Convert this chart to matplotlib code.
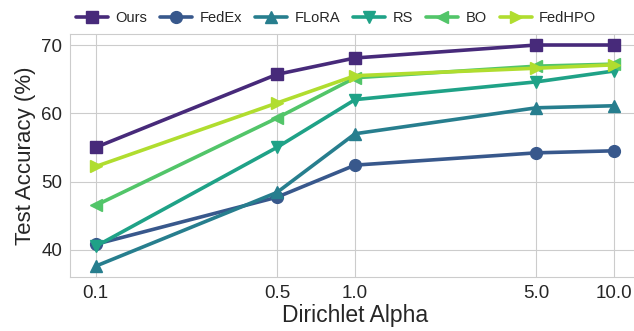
import matplotlib.pyplot as plt
import numpy as np
import seaborn as sns

sns.set_style("whitegrid")
plt.rcParams['font.family'] = ['Liberation Sans', 'DejaVu Sans']

alphas = [0.1, 0.5, 1.0, 5.0, 10.0]
tick_labels = ['0.1', '0.5', '1.0', '5.0', '10.0']

methods = ['Ours', 'FedEx', 'FLoRA', 'RS', 'BO', 'FedHPO']
markers = ['s', 'o', '^', 'v', '<', '>']

acc_ours = [55.0, 65.7, 68.1, 70.0, 70.0]
acc_fedex = [40.8, 47.7, 52.4, 54.2, 54.5]
acc_flora = [37.6, 48.4, 57.0, 60.8, 61.1]
acc_rs = [40.5, 55.0, 62.0, 64.6, 66.2]
acc_bo = [46.5, 59.3, 65.2, 66.9, 67.2]
acc_fedhpo = [52.2, 61.5, 65.5, 66.6, 67.1]

results = [acc_ours, acc_fedex, acc_flora, acc_rs, acc_bo, acc_fedhpo]
colors = plt.cm.viridis(np.linspace(0.12, 0.88, len(methods)))

fig = plt.figure(figsize=(6.34, 3.31), dpi=100)
ax = fig.add_axes([0.110, 0.163, 0.900, 0.734])

for name, acc, mk, c in zip(methods, results, markers, colors):
    ax.plot(alphas, acc, marker=mk, color=c, label=name,
            linewidth=2.6, markersize=8.5)

ax.set_xscale('log')
ax.set_xticks(alphas)
ax.set_xticklabels(tick_labels)
ax.minorticks_off()
ax.set_xlim(0.0794, 12.59)
ax.set_ylim(36.0, 71.6)
ax.set_yticks([40, 50, 60, 70])
ax.tick_params(labelsize=13.5, colors='#262626', pad=2)

ax.set_xlabel('Dirichlet Alpha', fontsize=16.5, color='#262626', labelpad=2)
ax.set_ylabel('Test Accuracy (%)', fontsize=16, color='#262626', labelpad=4)

for sp in ax.spines.values():
    sp.set_color('#cccccc')

ax.legend(loc='lower left', bbox_to_anchor=(-0.005, 1.0), ncol=6,
          frameon=False, fontsize=10.5, handlelength=2.2,
          columnspacing=0.9, handletextpad=0.5, borderaxespad=0.2)

plt.savefig('out.png', dpi=100)
plt.close('all')
